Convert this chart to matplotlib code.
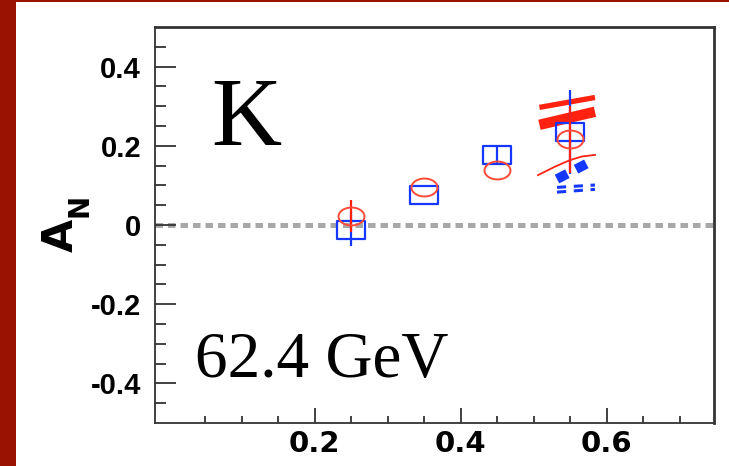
import numpy as np
import matplotlib
matplotlib.use("Agg")
import matplotlib.pyplot as plt
from matplotlib.path import Path
from matplotlib.patches import Rectangle
from matplotlib.ticker import FixedLocator

# ---- data ----
xf = [0.25, 0.35, 0.45, 0.55]
an_blue = [-0.013, 0.076, 0.176, 0.235]
err_blue_lo = [0.040, 0.0, 0.02, 0.105]
err_blue_hi = [0.046, 0.0, 0.02, 0.105]
an_red = [0.022, 0.097, 0.139, 0.216]
err_red = [0.040, 0.0, 0.0, 0.085]

th_x = [0.508, 0.584]
red_upper = [0.297, 0.322]
red_band = [0.253, 0.286]
red_thin_x = [0.506, 0.53, 0.55, 0.566, 0.584]
red_thin_y = [0.126, 0.148, 0.164, 0.173, 0.177]
blue_thick_x = [0.532, 0.577]
blue_thick_y = [0.116, 0.159]
blue_d_x = [0.532, 0.584]
blue_d1_y = [0.095, 0.101]
blue_d2_y = [0.083, 0.090]

xticks_major = [0.2, 0.4, 0.6]
xtick_labels = ["0.2", "0.4", "0.6"]
yticks_major = [-0.4, -0.2, 0.0, 0.2, 0.4]
ytick_labels = ["-0.4", "-0.2", "0", "0.2", "0.4"]

RED = "#ff2210"
BLUE = "#1438ff"

fig = plt.figure(figsize=(7.29, 4.66), dpi=100)
fig.patch.set_facecolor("#9a1200")
fig.patches.append(Rectangle((16 / 729, 0), 1, 464 / 466, transform=fig.transFigure,
                             facecolor="white", edgecolor="none", zorder=-10))

ax = fig.add_axes([155 / 729, 43 / 466, 559 / 729, 396 / 466])
ax.set_zorder(5)
ax.set_facecolor("white")
ax.set_xlim(-0.0185, 0.747)
ax.set_ylim(-0.5, 0.5)

# custom markers
t = np.linspace(0, 2 * np.pi, 60)
ell = Path(np.column_stack([np.cos(t) * 1.0, np.sin(t) * 0.69]))
rect = Path([(-1, -0.63), (1, -0.63), (1, 0.63), (-1, 0.63), (-1, -0.63)],
            [Path.MOVETO, Path.LINETO, Path.LINETO, Path.LINETO, Path.CLOSEPOLY])

ax.axhline(0, color="#a8a8a8", lw=3.6, dashes=(1.5, 1.0), zorder=1)

# theory curves
ax.plot(th_x, red_upper, color=RED, lw=3.8, solid_capstyle="butt", zorder=3)
ax.plot(th_x, red_band, color=RED, lw=7.5, solid_capstyle="butt", zorder=3)
ax.plot(red_thin_x, red_thin_y, color=RED, lw=1.3, zorder=3)
ax.plot(blue_thick_x, blue_thick_y, color=BLUE, lw=7, dashes=(1.2, 1.0), zorder=3)
ax.plot(blue_d_x, blue_d1_y, color=BLUE, lw=2.2, dashes=(3, 2.5), zorder=3)
ax.plot(blue_d_x, blue_d2_y, color=BLUE, lw=2.2, dashes=(3, 2.5), zorder=3)

# data points
ax.errorbar(xf, an_blue, yerr=[err_blue_lo, err_blue_hi], fmt="none", ecolor=BLUE,
            elinewidth=1.6, capsize=0, zorder=4)
ax.plot(xf, an_blue, linestyle="none", marker=rect, ms=19.5, mfc="none",
        mec=BLUE, mew=1.6, zorder=5)
ax.errorbar(xf, an_red, yerr=err_red, fmt="none", ecolor=RED,
            elinewidth=1.6, capsize=0, zorder=6)
ax.plot(xf, an_red, linestyle="none", marker=ell, ms=18.7, mfc="none",
        mec="#ff4a38", mew=1.4, zorder=6)

# axes styling
for s in ax.spines.values():
    s.set_color("#333333")
    s.set_linewidth(1.3)
ax.spines["right"].set_linewidth(2.0)
ax.spines["top"].set_linewidth(2.0)

ax.xaxis.set_major_locator(FixedLocator(xticks_major))
ax.xaxis.set_minor_locator(FixedLocator([0.05, 0.1, 0.15, 0.25, 0.3, 0.35, 0.45,
                                         0.5, 0.55, 0.65, 0.7]))
ax.set_xticklabels(xtick_labels, fontfamily="DejaVu Sans", fontweight="bold", fontsize=21)
ax.yaxis.set_major_locator(FixedLocator(yticks_major))
ax.yaxis.set_minor_locator(FixedLocator([v / 100 for v in range(-45, 50, 5)
                                         if v % 20 != 0]))
ax.set_yticklabels(ytick_labels, fontfamily="Liberation Sans", fontweight="bold", fontsize=21)

ax.tick_params(axis="x", which="major", direction="in", length=11, width=1.3,
               color="#333333", pad=5, top=False)
ax.tick_params(axis="x", which="minor", direction="in", length=5, width=1.3,
               color="#333333", top=False)
ax.tick_params(axis="y", which="major", direction="in", length=15, width=1.3,
               color="#333333", pad=10, right=False)
ax.tick_params(axis="y", which="minor", direction="in", length=8, width=1.3,
               color="#333333", right=False)

# annotations inside the frame
ax.text(246 / 729, 1 - 122 / 466, "K", ha="center", va="center",
        fontfamily="Liberation Serif", fontsize=70, transform=fig.transFigure)
ax.text(195 / 729, 1 - 377 / 466, "62.4 GeV", ha="left", va="baseline",
        fontfamily="Liberation Serif", fontsize=47, transform=fig.transFigure)

# axis title A_N
fig.text(61 / 729, 1 - 235 / 466, "A", rotation=90, ha="center", va="center",
         fontfamily="DejaVu Sans", fontweight="bold", fontsize=31)
fig.text(79 / 729, 1 - 205 / 466, "N", rotation=90, ha="center", va="center",
         fontfamily="DejaVu Sans", fontweight="bold", fontsize=20)

fig.savefig("out.png", dpi=100, facecolor=fig.get_facecolor())
